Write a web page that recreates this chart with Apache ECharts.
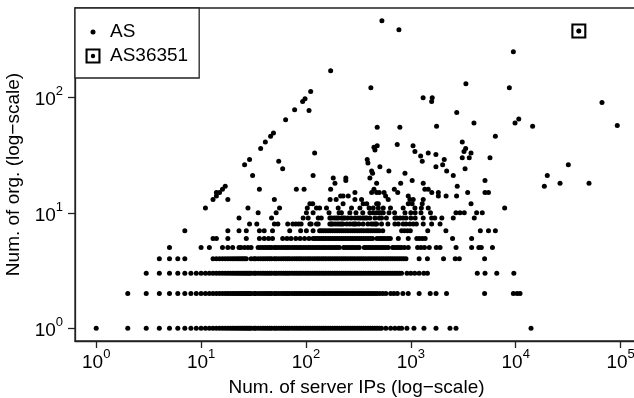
<!DOCTYPE html>
<html>
<head>
<meta charset="utf-8">
<title>Org count vs server IPs per AS</title>
<script src="https://cdn.jsdelivr.net/npm/echarts@6.0.0/dist/echarts.min.js"></script>
<style>
  html, body { margin: 0; padding: 0; background: #fff; }
  #chart { width: 634px; height: 398px; }
</style>
</head>
<body>
<div id="chart"></div>
<script>
// x = number of server IPs of an AS, y = number of organisations (integers)
// rows for the low, crowded y values: x positions of the ASes on that row
const row1 = [1,2,3,4,5,6,7,8,9,10,11,12,13,14,15,16,17,18,19,20,21,22,23,24,25,26,27,28,29,30,32,33,35,37,39,41,43,45,47,50,52,55,58,61,64,67,70,74,78,82,86,90,95,100,105,110,116,122,128,134,141,148,155,163,171,180,189,198,208,218,229,240,252,265,278,292,307,322,338,355,373,392,411,432,454,476,500,525,578,642,705,770,817,918,1071,1334,1737,2363,2696,14000];
const row2 = [2,3,4,5,6,7,8,9,10,11,12,13,14,15,16,17,18,19,20,21,22,23,24,25,26,27,28,29,30,32,33,35,37,39,41,43,45,47,50,52,55,58,61,64,67,70,74,78,82,86,90,95,100,105,110,116,122,128,134,141,148,155,163,171,180,189,198,208,218,229,240,252,265,278,292,307,322,338,355,373,392,411,432,454,476,505,540,578,642,690,744,840,945,1200,1530,1740,2190,5050,9500,10300,11000];
const row3 = [3,4,5,6,7,8,9,10,11,12,13,14,15,16,17,18,19,20,21,22,23,24,25,26,27,28,29,30,32,33,35,37,39,41,43,45,47,50,52,55,58,61,64,67,70,74,78,82,86,90,95,100,105,110,116,122,128,134,141,148,155,163,171,180,189,198,208,218,229,240,252,265,278,292,307,322,338,355,373,392,411,432,454,476,500,525,551,579,608,638,670,704,739,776,815,920,1000,1090,1200,1330,1440,4300,5100,6600,9600];
const row4 = [4,5,6,7,13,14,15,16,17,18,19,20,21,22,23,24,25,26,27,30,32,33,35,37,39,41,43,45,47,50,52,55,58,61,64,67,70,74,78,82,86,90,95,100,105,110,116,122,128,134,141,148,155,163,171,180,189,198,208,218,229,240,252,265,278,292,307,322,338,355,373,392,411,432,454,476,500,525,551,579,608,638,670,704,739,776,815,856,899,1200,1440,2050,2650,2900,5050];
const row5 = [5,10,12,16,18,20,23,24,26,28,30,35,37,39,41,43,45,47,50,52,55,58,61,64,67,70,74,78,82,86,90,95,100,105,110,116,122,128,134,141,148,155,163,171,180,189,198,208,229,240,252,265,278,292,307,322,360,373,392,411,432,454,476,500,525,551,579,608,670,704,739,776,815,870,945,1160,1250,1350,1500,1750,1900,2700,3800,4450,4700,6000];
const row6 = [13,14,18,27,36,40,44,48,60,66,72,80,88,97,107,117,122,128,134,141,148,155,163,171,180,189,198,208,218,229,240,252,265,278,292,307,322,338,355,373,392,411,432,476,500,525,551,579,608,638,760,945,1140,1210,1290,1370,2500,3800];
const row7 = [7,18,23,27,36,40,48,70,89,101,117,135,141,148,155,163,171,180,189,198,208,218,229,240,252,265,278,292,307,322,338,355,375,392,411,432,454,476,500,540,817,870,930,990,1450,2160,4600,5500,6400];
const row8 = [29,34,50,54,67,75,80,85,90,109,112,126,131,169,175,180,190,200,210,218,226,245,262,280,290,300,320,351,390,420,440,460,472,526,605,705,760,845,900,980,1054,1130,1313,1580,1900];
const row9 = [23,47,94,105,131,140,169,175,186,195,203,218,226,235,250,270,293,313,330,350,365,380,407,455,500,526,585,705,735,790,845,900,1000,1100,1313,1580,1692,1975,2540,4027];

// ASes with ten or more organisations: [server IPs, orgs]
const upperPoints = [
  [35,10],[52,10],[101,10],[117,10],[166,10],[207,10],[218,10],[262,10],[300,10],[348,10],[407,10],[438,10],[472,10],[500,10],[526,10],[546,10],[620,10],[700,10],[879,10],[1000,10],[1100,10],[1250,10],[1540,10],[2693,10],[2943,10],[3234,10],[4240,10],[4800,10],
  [11,11],[28,11],[56,11],[103,11],[126,11],[135,11],[157,11],[203,11],[272,11],[327,11],[400,11],[438,11],[490,11],[546,11],[640,11],[845,11],[1094,11],[1260,11],[1466,11],[7850,11],
  [109,12],[116,12],[226,12],[351,12],[380,12],[472,12],[490,12],[945,12],[1030,12],[1285,12],[3750,12],
  [13,13],[18,13],[50,13],[170,13],[194,13],[293,13],[339,13],[609,13],[980,13],[1054,13],[1313,13],
  [14,14],[214,14],[226,14],[253,14],[575,14],[945,14],[1830,14],[2170,14],[2730,14],
  [14,15],[15,15],[293,15],[423,15],[472,15],[500,15],[556,15],[750,15],[1585,15],[1830,15],[3483,15],[5095,15],[5500,15],
  [16,16],[36,16],[81,16],[96,16],[172,16],[445,16],[696,16],[1360,16],[1466,16],
  [17,17],[2770,17],[18750,17],
  [189,18],[472,18],[800,18],[1313,18],[26480,18],[50000,18],
  [240,19],[1030,19],[5095,19],
  [182,20],[240,20],[407,20],
  [31,21],[117,21],[2540,21],[20000,21],
  [432,22],[879,22],
  [423,23],[618,23],[2197,23],
  [60,24],[3290,24],
  [507,25],[1735,25],
  [26,26],[2011,26],[31750,26],
  [390,27],
  [55,28],[1285,28],
  [29,29],[384,29],[2083,29],
  [3093,30],[3607,30],[5688,30],
  [1241,31],[1735,32],
  [121,33],[1466,33],[3748,33],
  [1094,34],[3213,34],
  [455,35],
  [37,36],[3334,36],
  [445,37],
  [478,38],[1050,38],
  [742,39],
  [41,41],[3093,41],
  [46,46],[6400,46],
  [49,49],
  [478,55],[786,55],
  [1760,56],[14500,56],
  [93000,57],
  [4000,60],[9850,60],
  [64,64],[10700,65],
  [2740,74],
  [107,77],[78,78],
  [66500,90],
  [93,92],[1580,92],
  [98,97],
  [1310,99],[1600,99],
  [111,112],
  [416,121],[8700,121],
  [3350,131],
  [172,170],
  [9500,248],
  [40000,375],
  [770,385],
  [530,460]
];

const highlight = [[40000, 375]]; // AS36351
const xTicks = [1, 10, 100, 1000, 10000, 100000];
const yTicks = [1, 10, 100];

const FONT = "'Liberation Sans', Arial, Helvetica, sans-serif";
const INK = '#000';
// hollow square with a dot, as R's pch 0 over pch 20
const boxDot = 'path://M0,0H15V15H0Z M2.1,2.1V12.9H12.9V2.1Z M5.3,7.5A2.2,2.2,0,1,0,9.7,7.5A2.2,2.2,0,1,0,5.3,7.5Z';

const asPoints = [];
[row1, row2, row3, row4, row5, row6, row7, row8, row9].forEach((xs, i) => {
    xs.forEach(x => asPoints.push([x, i + 1]));
});
upperPoints.forEach(p => asPoints.push(p));

const powLabel = v => '{b|10}{s|' + Math.round(Math.log10(v)) + '}';
const powRich = {
    b: { fontSize: 19, fontFamily: FONT, color: INK, lineHeight: 24, verticalAlign: 'bottom' },
    s: { fontSize: 13, fontFamily: FONT, color: INK, lineHeight: 14, verticalAlign: 'top' }
};
const axisStroke = { color: '#222', width: 1.3 };

const chart = echarts.init(document.getElementById('chart'), null, { renderer: 'canvas' });

chart.setOption({
    animation: false,
    backgroundColor: '#fff',
    textStyle: { fontFamily: FONT },
    grid: {
        // the plot runs a few pixels past the right edge, like the cropped original
        left: 75, top: 8, right: -4, bottom: 57,
        outerBoundsMode: 'none',
        containLabel: false,
        show: true, borderColor: '#222', borderWidth: 1.3
    },
    legend: [
        {
            data: [{ name: 'AS', icon: 'circle' }],
            left: 90.5, top: 22, padding: 0,
            itemWidth: 5, itemHeight: 5,
            selectedMode: false,
            z: 10,
            textStyle: { fontSize: 19, color: INK, fontFamily: FONT, lineHeight: 20, padding: [0, 0, 0, 9.5] }
        },
        {
            data: [{ name: 'AS36351', icon: boxDot }],
            orient: 'vertical',
            left: 75, top: 8,
            padding: [38, 11, 12, 10.5],
            itemWidth: 15, itemHeight: 15,
            selectedMode: false,
            borderColor: '#222', borderWidth: 1.3, borderRadius: 0,
            backgroundColor: '#fff',
            z: 9,
            textStyle: { fontSize: 19, color: INK, fontFamily: FONT, lineHeight: 20, padding: [0, 0, 0, 4.5] }
        }
    ],
    xAxis: {
        type: 'log',
        logBase: 10,
        min: 0.628,
        max: 146600,
        name: 'Num. of server IPs (log\u2212scale)',
        nameLocation: 'middle',
        nameGap: 37,
        nameTextStyle: { fontSize: 19, color: INK, fontFamily: FONT },
        axisLine: { show: true, lineStyle: axisStroke },
        axisTick: { show: true, inside: false, length: 7, customValues: xTicks, lineStyle: axisStroke },
        axisLabel: { customValues: xTicks, formatter: powLabel, rich: powRich, margin: 7 },
        splitLine: { show: false },
        minorTick: { show: false }
    },
    yAxis: {
        type: 'log',
        logBase: 10,
        min: 0.776,
        max: 593,
        name: 'Num. of org. (log\u2212scale)',
        nameLocation: 'middle',
        nameGap: 50,
        nameTextStyle: { fontSize: 19, color: INK, fontFamily: FONT },
        axisLine: { show: true, lineStyle: axisStroke },
        axisTick: { show: true, inside: false, length: 7, customValues: yTicks, lineStyle: axisStroke },
        axisLabel: { customValues: yTicks, formatter: powLabel, rich: powRich, margin: 12 },
        splitLine: { show: false },
        minorTick: { show: false }
    },
    series: [
        {
            name: 'AS',
            type: 'scatter',
            symbol: 'circle',
            symbolSize: 5,
            itemStyle: { color: INK, opacity: 1 },
            data: asPoints,
            z: 2
        },
        {
            name: 'AS36351',
            type: 'scatter',
            symbol: boxDot,
            symbolSize: 15,
            symbolKeepAspect: true,
            itemStyle: { color: INK, opacity: 1 },
            data: highlight,
            z: 3
        }
    ]
});
</script>
</body>
</html>
